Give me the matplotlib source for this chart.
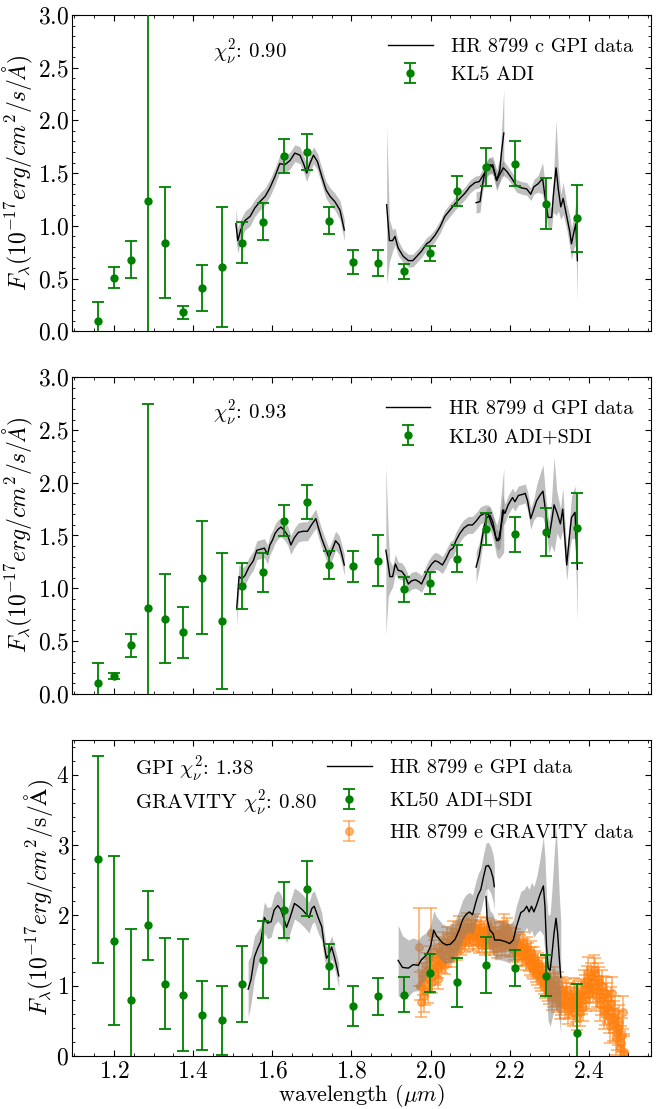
import matplotlib
matplotlib.use("Agg")
import matplotlib.pyplot as plt
from matplotlib.ticker import MultipleLocator, AutoMinorLocator

plt.rcParams['font.family'] = 'serif'
plt.rcParams['font.serif'] = ['cmr10']
plt.rcParams['mathtext.fontset'] = 'cm'
plt.rcParams['axes.formatter.use_mathtext'] = True

# wavelengths of the KLIP photometry points (micron)
wl_kl = [1.160, 1.200, 1.243, 1.286, 1.330, 1.375, 1.423, 1.472, 1.524, 1.576, 1.630,
         1.687, 1.744, 1.805, 1.868, 1.933, 1.998, 2.068, 2.140, 2.214, 2.291, 2.369]

# HR 8799 c, KL5 ADI
c_flux = [0.10, 0.51, 0.68, 1.24, 0.84, 0.18, 0.41, 0.61, 0.84, 1.04, 1.66,
          1.70, 1.05, 0.66, 0.65, 0.57, 0.74, 1.33, 1.56, 1.59, 1.21, 1.07]
c_err = [0.18, 0.095, 0.175, 2.0, 0.525, 0.06, 0.22, 0.565, 0.195, 0.175, 0.16,
         0.17, 0.13, 0.115, 0.125, 0.07, 0.073, 0.143, 0.18, 0.21, 0.24, 0.32]

# HR 8799 d, KL30 ADI+SDI
d_flux = [0.10, 0.17, 0.46, 0.81, 0.71, 0.58, 1.10, 0.69, 1.02, 1.15, 1.64,
          1.82, 1.22, 1.21, 1.26, 0.99, 1.05, 1.28, 1.56, 1.51, 1.53, 1.57]
d_err = [0.19, 0.03, 0.11, 1.94, 0.42, 0.245, 0.535, 0.645, 0.22, 0.185, 0.145,
         0.16, 0.13, 0.147, 0.24, 0.12, 0.103, 0.13, 0.15, 0.17, 0.228, 0.33]

# HR 8799 e, KL50 ADI+SDI
e_flux = [2.80, 1.64, 0.80, 1.86, 1.03, 0.87, 0.58, 0.51, 1.03, 1.37, 2.08,
          2.38, 1.28, 0.71, 0.85, 0.87, 1.18, 1.05, 1.29, 1.25, 1.14, 0.33]
e_err = [1.47, 1.20, 1.00, 0.49, 0.65, 0.80, 0.49, 0.49, 0.54, 0.55, 0.40,
         0.39, 0.32, 0.29, 0.26, 0.25, 0.27, 0.35, 0.40, 0.26, 0.29, 0.70]

# GPI spectra (H, K1, K2) for c
c_h_wl = [1.508, 1.513, 1.520, 1.531, 1.544, 1.556, 1.569, 1.582, 1.594, 1.607, 1.619, 1.632, 1.645,
          1.657, 1.670, 1.680, 1.687, 1.695, 1.704, 1.714, 1.725, 1.736, 1.746, 1.758, 1.771, 1.782]
c_h_f = [1.02, 0.86, 0.96, 1.05, 1.09, 1.17, 1.23, 1.28, 1.36, 1.47, 1.59, 1.58, 1.62,
         1.69, 1.67, 1.58, 1.50, 1.59, 1.67, 1.61, 1.47, 1.34, 1.28, 1.23, 1.15, 0.96]
c_h_e = [0.15, 0.12, 0.10, 0.09, 0.09, 0.08, 0.08, 0.08, 0.08, 0.08, 0.08, 0.08, 0.08,
         0.08, 0.08, 0.08, 0.08, 0.08, 0.08, 0.08, 0.08, 0.08, 0.08, 0.08, 0.09, 0.10]
c_k1_wl = [1.889, 1.896, 1.904, 1.910, 1.918, 1.931, 1.944, 1.955, 1.965, 1.977, 1.990, 1.998, 2.011,
           2.024, 2.036, 2.049, 2.062, 2.074, 2.087, 2.099, 2.112, 2.123, 2.133, 2.146, 2.157, 2.167,
           2.175, 2.179, 2.185]
c_k1_f = [1.20, 0.86, 0.86, 0.90, 0.79, 0.71, 0.67, 0.67, 0.71, 0.76, 0.83, 0.85, 0.91,
          0.99, 1.09, 1.15, 1.21, 1.26, 1.31, 1.37, 1.41, 1.42, 1.48, 1.56, 1.58, 1.43,
          1.53, 1.69, 1.88]
c_k1_e = [0.75, 0.20, 0.10, 0.08, 0.07, 0.06, 0.06, 0.06, 0.06, 0.06, 0.06, 0.06, 0.06,
          0.06, 0.06, 0.06, 0.06, 0.06, 0.06, 0.06, 0.06, 0.06, 0.07, 0.08, 0.08, 0.10,
          0.12, 0.20, 0.42]
c_k2_wl = [2.115, 2.125, 2.129, 2.135, 2.142, 2.150, 2.158, 2.167, 2.175, 2.184, 2.194, 2.205, 2.217,
           2.230, 2.243, 2.253, 2.261, 2.272, 2.283, 2.289, 2.297, 2.306, 2.310, 2.317, 2.323, 2.329,
           2.335, 2.344, 2.352, 2.356, 2.362, 2.367, 2.371]
c_k2_f = [1.22, 1.23, 1.34, 1.47, 1.55, 1.58, 1.55, 1.43, 1.49, 1.55, 1.51, 1.45, 1.38,
          1.36, 1.35, 1.30, 1.37, 1.40, 1.45, 1.28, 1.08, 1.08, 1.28, 1.55, 1.34, 1.18,
          1.26, 1.09, 0.94, 0.83, 0.94, 1.02, 0.67]
c_k2_e = [0.10, 0.10, 0.08, 0.07, 0.07, 0.07, 0.07, 0.07, 0.07, 0.07, 0.06, 0.06, 0.06,
          0.06, 0.06, 0.06, 0.07, 0.08, 0.15, 0.12, 0.10, 0.10, 0.15, 0.45, 0.20, 0.12,
          0.15, 0.12, 0.15, 0.15, 0.15, 0.20, 0.38]

# GPI spectra for d
d_h_wl = [1.510, 1.516, 1.523, 1.531, 1.541, 1.552, 1.561, 1.571, 1.580, 1.588, 1.594, 1.601, 1.607,
          1.615, 1.622, 1.630, 1.639, 1.647, 1.656, 1.666, 1.678, 1.689, 1.699, 1.710, 1.716, 1.725,
          1.735, 1.743, 1.752, 1.760, 1.769, 1.775, 1.782]
d_h_f = [0.80, 1.11, 1.09, 1.12, 1.20, 1.26, 1.36, 1.37, 1.38, 1.32, 1.41, 1.46, 1.52,
         1.56, 1.58, 1.55, 1.50, 1.41, 1.48, 1.53, 1.54, 1.54, 1.60, 1.66, 1.58, 1.47,
         1.37, 1.29, 1.37, 1.45, 1.41, 1.33, 1.22]
d_h_e = [0.15, 0.12, 0.10, 0.09, 0.09, 0.09, 0.09, 0.09, 0.09, 0.09, 0.09, 0.09, 0.09,
         0.09, 0.09, 0.09, 0.09, 0.09, 0.09, 0.09, 0.09, 0.09, 0.09, 0.09, 0.09, 0.09,
         0.09, 0.09, 0.09, 0.09, 0.09, 0.09, 0.10]
d_k1_wl = [1.887, 1.893, 1.897, 1.904, 1.911, 1.918, 1.927, 1.935, 1.944, 1.952, 1.962, 1.971, 1.977,
           1.986, 1.994, 2.003, 2.011, 2.019, 2.030, 2.039, 2.049, 2.057, 2.064, 2.074, 2.084, 2.095,
           2.106, 2.116, 2.126, 2.137, 2.146, 2.154, 2.160, 2.167, 2.173, 2.179, 2.185]
d_k1_f = [1.36, 1.22, 1.11, 1.11, 1.23, 1.17, 1.16, 1.12, 1.04, 1.07, 1.08, 1.06, 1.04,
          1.11, 1.18, 1.23, 1.26, 1.25, 1.22, 1.28, 1.36, 1.38, 1.45, 1.52, 1.57, 1.60,
          1.60, 1.64, 1.69, 1.71, 1.70, 1.61, 1.55, 1.45, 1.48, 1.61, 1.74]
d_k1_e = [0.80, 0.30, 0.15, 0.10, 0.09, 0.08, 0.08, 0.08, 0.08, 0.08, 0.08, 0.08, 0.08,
          0.08, 0.08, 0.08, 0.08, 0.08, 0.08, 0.08, 0.08, 0.08, 0.08, 0.08, 0.08, 0.08,
          0.08, 0.08, 0.08, 0.08, 0.09, 0.10, 0.12, 0.15, 0.20, 0.30, 0.40]
d_k2_wl = [2.115, 2.123, 2.129, 2.135, 2.142, 2.150, 2.157, 2.165, 2.171, 2.175, 2.182, 2.188, 2.196,
           2.207, 2.213, 2.222, 2.233, 2.239, 2.245, 2.253, 2.261, 2.268, 2.276, 2.284, 2.291, 2.299,
           2.305, 2.312, 2.319, 2.328, 2.334, 2.344, 2.352, 2.356, 2.365, 2.371]
d_k2_f = [1.20, 1.31, 1.45, 1.58, 1.67, 1.69, 1.63, 1.48, 1.45, 1.47, 1.74, 1.71, 1.79,
          1.86, 1.82, 1.88, 1.89, 1.90, 1.83, 1.66, 1.75, 1.83, 1.88, 1.92, 1.72, 1.48,
          1.61, 1.79, 1.72, 1.61, 1.75, 1.22, 1.53, 1.67, 1.72, 1.18]
d_k2_e = [0.15, 0.12, 0.10, 0.09, 0.09, 0.09, 0.09, 0.09, 0.09, 0.09, 0.15, 0.09, 0.09,
          0.09, 0.09, 0.09, 0.09, 0.09, 0.09, 0.10, 0.10, 0.15, 0.20, 0.25, 0.15, 0.15,
          0.20, 0.45, 0.20, 0.15, 0.20, 0.15, 0.15, 0.20, 0.25, 0.50]

# GPI spectra for e
e_h_wl = [1.539, 1.546, 1.555, 1.563, 1.571, 1.580, 1.588, 1.597, 1.605, 1.614, 1.622, 1.630, 1.636,
          1.645, 1.656, 1.666, 1.676, 1.687, 1.693, 1.700, 1.706, 1.716, 1.725, 1.731, 1.737, 1.743,
          1.750, 1.757, 1.763, 1.768]
e_h_f = [0.95, 1.08, 1.41, 1.53, 1.63, 1.97, 1.89, 1.91, 2.08, 2.14, 2.08, 1.94, 1.83,
         1.97, 2.17, 2.13, 2.08, 2.01, 1.97, 2.10, 2.13, 1.97, 1.84, 1.58, 1.39, 1.44,
         1.55, 1.41, 1.27, 1.14]
e_h_e = [0.40, 0.35, 0.30, 0.25, 0.22, 0.22, 0.22, 0.22, 0.22, 0.22, 0.22, 0.22, 0.22,
         0.22, 0.22, 0.22, 0.22, 0.22, 0.22, 0.22, 0.22, 0.22, 0.20, 0.18, 0.16, 0.16,
         0.16, 0.16, 0.16, 0.18]
e_k1_wl = [1.918, 1.929, 1.944, 1.956, 1.969, 1.977, 1.990, 2.000, 2.008, 2.015, 2.024, 2.030, 2.040,
           2.050, 2.062, 2.072, 2.081, 2.089, 2.098, 2.106, 2.115, 2.120, 2.127, 2.133, 2.140, 2.146,
           2.152, 2.158, 2.161]
e_k1_f = [1.36, 1.26, 1.25, 1.30, 1.29, 1.37, 1.44, 1.56, 1.79, 1.71, 1.65, 1.61, 1.58,
          1.59, 1.66, 1.79, 1.94, 2.01, 2.05, 2.01, 2.20, 2.29, 2.37, 2.53, 2.70, 2.71,
          2.65, 2.53, 2.41]
e_k1_e = [0.50, 0.45, 0.40, 0.38, 0.36, 0.34, 0.32, 0.30, 0.28, 0.27, 0.27, 0.27, 0.27,
          0.27, 0.27, 0.28, 0.28, 0.28, 0.28, 0.28, 0.30, 0.30, 0.30, 0.32, 0.33, 0.33,
          0.33, 0.33, 0.33]
e_k2_wl = [2.140, 2.143, 2.150, 2.158, 2.162, 2.175, 2.188, 2.200, 2.209, 2.217, 2.228, 2.236, 2.243,
           2.249, 2.255, 2.261, 2.268, 2.276, 2.285, 2.289, 2.293, 2.297, 2.302, 2.306, 2.312, 2.317,
           2.321, 2.325, 2.329]
e_k2_f = [2.27, 1.94, 1.79, 1.74, 1.65, 1.65, 1.63, 1.60, 1.65, 1.84, 2.04, 2.07, 2.13,
          2.05, 2.13, 2.05, 2.15, 2.29, 2.42, 2.13, 1.56, 1.25, 1.22, 1.41, 1.75, 1.96,
          1.75, 1.41, 1.12]
e_k2_e = [0.30, 0.30, 0.28, 0.28, 0.28, 0.28, 0.28, 0.28, 0.28, 0.30, 0.30, 0.30, 0.30,
          0.32, 0.34, 0.36, 0.40, 0.50, 0.70, 0.70, 0.70, 0.75, 0.80, 0.90, 1.10, 1.30,
          1.10, 0.90, 0.80]

# GRAVITY K-band spectrum of e (two interleaved wavelength grids)
grav_wl = [1.970, 1.975, 1.980, 1.985, 1.990, 1.995, 2.000, 2.005, 2.010, 2.015, 2.020, 2.025, 2.030,
           2.035, 2.040, 2.045, 2.050, 2.055, 2.060, 2.065, 2.070, 2.075, 2.080, 2.085, 2.090, 2.095,
           2.100, 2.105, 2.110, 2.115, 2.120, 2.125, 2.130, 2.135, 2.140, 2.145, 2.150, 2.155, 2.160,
           2.165, 2.170, 2.175, 2.180, 2.185, 2.190, 2.195, 2.200, 2.205, 2.210, 2.215, 2.220, 2.225,
           2.230, 2.235, 2.240, 2.245, 2.250, 2.255, 2.260, 2.265, 2.270, 2.275, 2.280, 2.285, 2.290,
           2.295, 2.300, 2.305, 2.310, 2.315, 2.320, 2.325, 2.330, 2.335, 2.340, 2.345, 2.350, 2.355,
           2.360, 2.365, 2.370, 2.375, 2.380, 2.385, 2.390, 2.395, 2.400, 2.405, 2.410, 2.415, 2.420,
           2.425, 2.430, 2.435, 2.440, 2.445, 2.450, 2.455, 2.460, 2.465, 2.470, 2.475, 2.480, 2.485,
           2.490]
grav_f = [1.55, 0.77, 1.05, 0.92, 1.22, 1.08, 1.75, 1.30, 1.15, 1.38, 1.25, 1.45, 1.32,
          1.52, 1.40, 1.60, 1.48, 1.66, 1.55, 1.72, 1.60, 1.76, 1.65, 1.80, 1.70, 1.82,
          1.74, 1.85, 1.70, 1.80, 1.66, 1.78, 1.62, 1.76, 1.68, 1.82, 1.60, 1.74, 1.58,
          1.70, 1.62, 1.76, 1.56, 1.88, 1.66, 1.72, 1.55, 1.68, 1.50, 1.62, 1.48, 1.58,
          1.42, 1.52, 1.38, 1.46, 1.30, 1.40, 1.24, 1.34, 1.16, 1.26, 1.08, 1.18, 0.98,
          1.10, 0.90, 1.02, 0.86, 1.00, 0.80, 0.94, 0.76, 0.90, 0.72, 0.86, 0.70, 0.80,
          0.62, 0.84, 0.56, 0.78, 0.90, 0.70, 0.95, 1.08, 0.88, 1.12, 0.98, 1.18, 0.92,
          1.05, 0.80, 0.92, 0.66, 0.82, 0.55, 0.75, 0.45, 0.62, 0.32, 0.48, 0.18, 0.62,
          0.06]
grav_e = [0.55, 0.22, 0.18, 0.20, 0.16, 0.18, 0.35, 0.15, 0.14, 0.14, 0.14, 0.14, 0.14,
          0.14, 0.14, 0.14, 0.14, 0.14, 0.14, 0.14, 0.14, 0.14, 0.14, 0.14, 0.14, 0.14,
          0.14, 0.14, 0.14, 0.14, 0.14, 0.14, 0.14, 0.14, 0.14, 0.14, 0.14, 0.14, 0.14,
          0.14, 0.14, 0.14, 0.14, 0.14, 0.14, 0.14, 0.14, 0.14, 0.14, 0.14, 0.14, 0.14,
          0.14, 0.14, 0.15, 0.15, 0.15, 0.15, 0.15, 0.15, 0.15, 0.15, 0.15, 0.15, 0.16,
          0.16, 0.16, 0.16, 0.16, 0.16, 0.17, 0.17, 0.17, 0.17, 0.18, 0.18, 0.18, 0.18,
          0.19, 0.19, 0.19, 0.19, 0.20, 0.20, 0.20, 0.20, 0.21, 0.21, 0.21, 0.21, 0.22,
          0.22, 0.22, 0.22, 0.22, 0.22, 0.23, 0.23, 0.23, 0.23, 0.24, 0.24, 0.24, 0.24,
          0.25]
grav_wl_b = [1.9725, 1.9775, 1.9825, 1.9875, 1.9925, 1.9975, 2.0025, 2.0075, 2.0125, 2.0175, 2.0225,
             2.0275, 2.0325, 2.0375, 2.0425, 2.0475, 2.0525, 2.0575, 2.0625, 2.0675, 2.0725, 2.0775,
             2.0825, 2.0875, 2.0925, 2.0975, 2.1025, 2.1075, 2.1125, 2.1175, 2.1225, 2.1275, 2.1325,
             2.1375, 2.1425, 2.1475, 2.1525, 2.1575, 2.1625, 2.1675, 2.1725, 2.1775, 2.1825, 2.1875,
             2.1925, 2.1975, 2.2025, 2.2075, 2.2125, 2.2175, 2.2225, 2.2275, 2.2325, 2.2375, 2.2425,
             2.2475, 2.2525, 2.2575, 2.2625, 2.2675, 2.2725, 2.2775, 2.2825, 2.2875, 2.2925, 2.2975,
             2.3025, 2.3075, 2.3125, 2.3175, 2.3225, 2.3275, 2.3325, 2.3375, 2.3425, 2.3475, 2.3525,
             2.3575, 2.3625, 2.3675, 2.3725, 2.3775, 2.3825, 2.3875, 2.3925, 2.3975, 2.4025, 2.4075,
             2.4125, 2.4175, 2.4225, 2.4275, 2.4325, 2.4375, 2.4425, 2.4475, 2.4525, 2.4575, 2.4625,
             2.4675, 2.4725, 2.4775, 2.4825, 2.4875]
grav_f_b = [1.00, 1.15, 0.85, 1.30, 0.95, 1.40, 1.05, 1.50, 1.28, 1.10, 1.55,
            1.35, 1.62, 1.30, 1.70, 1.52, 1.40, 1.78, 1.62, 1.50, 1.85, 1.58,
            1.74, 1.62, 1.90, 1.66, 1.80, 1.64, 1.88, 1.72, 1.60, 1.84, 1.70,
            1.58, 1.74, 1.66, 1.80, 1.62, 1.76, 1.54, 1.70, 1.64, 1.78, 1.58,
            1.82, 1.64, 1.70, 1.56, 1.66, 1.42, 1.60, 1.50, 1.62, 1.44, 1.54,
            1.36, 1.48, 1.28, 1.40, 1.20, 1.32, 1.12, 1.24, 1.04, 1.14, 0.94,
            1.06, 0.82, 1.10, 0.88, 1.02, 0.70, 0.96, 0.80, 0.92, 0.64, 0.86,
            0.74, 0.92, 0.68, 0.88, 0.62, 0.80, 1.02, 0.84, 1.20, 0.96, 1.05,
            1.22, 0.86, 1.10, 0.72, 1.00, 0.60, 0.90, 0.70, 0.42, 0.90, 0.55,
            0.25, 0.40, 0.12, 0.30, 0.04]
grav_e_b = [0.20, 0.18, 0.22, 0.16, 0.20, 0.16, 0.16, 0.15, 0.14, 0.14, 0.14,
            0.14, 0.14, 0.14, 0.14, 0.14, 0.14, 0.14, 0.14, 0.14, 0.14, 0.14,
            0.14, 0.14, 0.14, 0.14, 0.14, 0.14, 0.14, 0.14, 0.14, 0.14, 0.14,
            0.14, 0.14, 0.14, 0.14, 0.14, 0.14, 0.14, 0.14, 0.14, 0.14, 0.14,
            0.14, 0.14, 0.14, 0.14, 0.14, 0.14, 0.14, 0.14, 0.14, 0.15, 0.15,
            0.15, 0.15, 0.15, 0.15, 0.15, 0.15, 0.15, 0.15, 0.16, 0.16, 0.16,
            0.16, 0.16, 0.16, 0.17, 0.17, 0.17, 0.17, 0.18, 0.18, 0.18, 0.18,
            0.19, 0.19, 0.19, 0.19, 0.20, 0.20, 0.20, 0.20, 0.21, 0.21, 0.21,
            0.21, 0.22, 0.22, 0.22, 0.22, 0.22, 0.22, 0.23, 0.23, 0.23, 0.23,
            0.24, 0.24, 0.24, 0.24, 0.25]

ylab = r'$F_{\lambda}(10^{-17}erg/cm^2/s/\AA)$'
ylab_e = r'$F_{\lambda}(10^{-17}erg/cm^2/\mathrm{s}/\mathrm{\AA})$'


def gpi_band(ax, wl, f, e, label=None):
    lo = [a - b for a, b in zip(f, e)]
    hi = [a + b for a, b in zip(f, e)]
    ax.fill_between(wl, lo, hi, color='grey', alpha=0.5, lw=0, zorder=2)
    ax.plot(wl, f, color='black', lw=1.0, zorder=3, label=label)


def kl_points(ax, f, e, label):
    return ax.errorbar(wl_kl, f, yerr=e, fmt='o', color='green', ms=5, capsize=4.5,
                       elinewidth=1.3, capthick=1.3, zorder=4, label=label)


leg_kw = dict(loc='upper right', frameon=False, fontsize=14.5, handlelength=2.2,
              handletextpad=0.9)

fig, axes = plt.subplots(3, 1, figsize=(6.56, 11.09), dpi=100, sharex=True)
fig.subplots_adjust(left=0.1098, right=0.9924, top=0.9865, bottom=0.0478, hspace=0.1456)

# planet c
ax = axes[0]
gpi_band(ax, c_h_wl, c_h_f, c_h_e, 'HR 8799 c GPI data')
gpi_band(ax, c_k1_wl, c_k1_f, c_k1_e)
gpi_band(ax, c_k2_wl, c_k2_f, c_k2_e)
kl_points(ax, c_flux, c_err, 'KL5 ADI')
ax.text(0.244, 0.883, r'$\chi^2_\nu$: 0.90', transform=ax.transAxes, fontsize=15, va='center')
ax.set_ylim(0, 3.0)
ax.yaxis.set_major_locator(MultipleLocator(0.5))
ax.set_ylabel(ylab, fontsize=17)
ax.yaxis.set_label_coords(-0.064, 0.5)
ax.legend(bbox_to_anchor=(1, 0.985), **leg_kw)

# planet d
ax = axes[1]
gpi_band(ax, d_h_wl, d_h_f, d_h_e, 'HR 8799 d GPI data')
gpi_band(ax, d_k1_wl, d_k1_f, d_k1_e)
gpi_band(ax, d_k2_wl, d_k2_f, d_k2_e)
kl_points(ax, d_flux, d_err, 'KL30 ADI+SDI')
ax.text(0.244, 0.886, r'$\chi^2_\nu$: 0.93', transform=ax.transAxes, fontsize=15, va='center')
ax.set_ylim(0, 3.0)
ax.yaxis.set_major_locator(MultipleLocator(0.5))
ax.set_ylabel(ylab, fontsize=17)
ax.yaxis.set_label_coords(-0.064, 0.5)
ax.legend(bbox_to_anchor=(1, 0.985), **leg_kw)

# planet e, with GRAVITY
ax = axes[2]
ax.errorbar(grav_wl + grav_wl_b, grav_f + grav_f_b, yerr=grav_e + grav_e_b, fmt='o',
            color='tab:orange', alpha=0.55, ms=5.5, capsize=4.5, elinewidth=1.3, capthick=1.3,
            zorder=1, label='HR 8799 e GRAVITY data')
gpi_band(ax, e_h_wl, e_h_f, e_h_e, 'HR 8799 e GPI data')
gpi_band(ax, e_k1_wl, e_k1_f, e_k1_e)
gpi_band(ax, e_k2_wl, e_k2_f, e_k2_e)
kl_points(ax, e_flux, e_err, 'KL50 ADI+SDI')
ax.text(0.109, 0.905, r'GPI $\chi^2_\nu$: 1.38', transform=ax.transAxes, fontsize=15, va='center')
ax.text(0.109, 0.799, r'GRAVITY $\chi^2_\nu$: 0.80', transform=ax.transAxes, fontsize=15, va='center')
ax.set_ylim(0, 4.5)
ax.yaxis.set_major_locator(MultipleLocator(1))
ax.set_ylabel(ylab_e, fontsize=17)
ax.yaxis.set_label_coords(-0.027, 0.5)
ax.set_xlabel(r'wavelength ($\mu m$)', fontsize=16, labelpad=-1)
h, l = ax.get_legend_handles_labels()
order = [l.index('HR 8799 e GPI data'), l.index('KL50 ADI+SDI'), l.index('HR 8799 e GRAVITY data')]
ax.legend([h[i] for i in order], [l[i] for i in order], bbox_to_anchor=(1, 0.995),
          labelspacing=0.7, **leg_kw)

ax.set_xlim(1.094, 2.557)
ax.xaxis.set_major_locator(MultipleLocator(0.2))

for ax in axes:
    ax.xaxis.set_minor_locator(AutoMinorLocator(4))
    ax.yaxis.set_minor_locator(AutoMinorLocator(5))
    ax.tick_params(which='both', direction='in', top=True, right=True, labelsize=17)
    ax.tick_params(axis='y', which='major', pad=2)
    ax.tick_params(axis='x', which='major', pad=3.5)
    ax.tick_params(which='major', length=4, width=0.8)
    ax.tick_params(which='minor', length=2, width=0.6)
    for s in ax.spines.values():
        s.set_linewidth(0.8)

fig.savefig('out.png', dpi=100)
